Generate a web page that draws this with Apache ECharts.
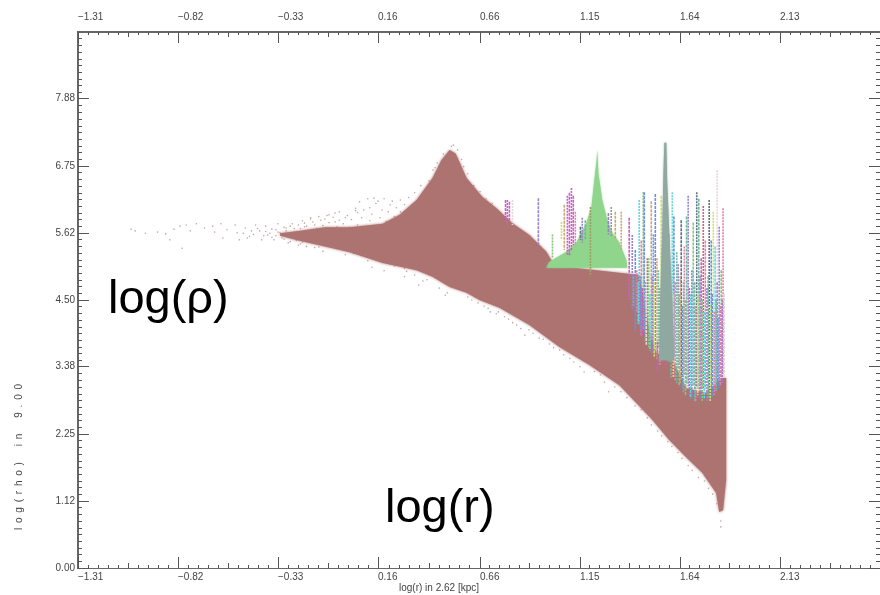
<!DOCTYPE html>
<html>

<head>
    <meta charset="UTF-8">
    <title>log(rho) vs log(r)</title>
    <script src="https://cdn.jsdelivr.net/npm/echarts@6/dist/echarts.min.js"></script>
    <style>
        html, body { margin: 0; padding: 0; background: #fff; overflow: hidden; }
    </style>
</head>

<body>
    <div id="container" style="width: 880px;height:595px;"></div>
</body>

<script>
    // tick labels
    var xTicks = [-1.31, -0.82, -0.33, 0.16, 0.66, 1.15, 1.64, 2.13];
    var yTicks = [0.00, 1.12, 2.25, 3.38, 4.50, 5.62, 6.75, 7.88];
    var xMin = -1.31, xMax = 2.62, yMin = 0, yMax = 9;

    // main gas cloud outline
    var cloudR = [-0.32, -0.23, -0.10, 0.021, 0.183, 0.266, 0.349, 0.427, 0.471, 0.511, 0.540, 0.559, 0.594, 0.672, 0.741, 0.819, 0.902, 0.985, 1.015, 1.122, 1.440, 1.489, 1.524, 1.597, 1.670, 1.768, 1.842, 1.866, 1.866, 1.851, 1.832, 1.817, 1.749, 1.670, 1.587, 1.504, 1.426, 1.343, 1.196, 1.049, 0.902, 0.755, 0.657, 0.594, 0.511, 0.427, 0.349, 0.183, 0.021, -0.10, -0.23, -0.32];
    var cloudRho = [5.62, 5.66, 5.72, 5.72, 5.78, 5.93, 6.18, 6.55, 6.85, 7.02, 6.96, 6.82, 6.55, 6.23, 6.04, 5.79, 5.59, 5.31, 5.14, 5.04, 4.92, 4.00, 3.61, 3.53, 3.02, 2.94, 3.19, 3.19, 1.48, 0.97, 0.94, 1.26, 1.60, 1.86, 2.15, 2.49, 2.77, 3.07, 3.41, 3.71, 4.08, 4.37, 4.50, 4.62, 4.72, 4.89, 5.00, 5.12, 5.30, 5.40, 5.50, 5.58];

    // green clump
    var clumpR = [0.985, 1.000, 1.034, 1.083, 1.132, 1.181, 1.206, 1.220, 1.230, 1.235, 1.240, 1.259, 1.284, 1.308, 1.343, 1.377, 1.382];
    var clumpRho = [5.04, 5.14, 5.21, 5.31, 5.46, 5.79, 6.06, 6.51, 6.80, 7.02, 6.63, 6.18, 5.84, 5.63, 5.46, 5.17, 5.04];

    // tall grey clump
    var peakR = [1.563, 1.573, 1.577, 1.587, 1.602, 1.612, 1.538, 1.543, 1.553, 1.558];
    var peakRho = [7.14, 7.14, 6.51, 5.68, 4.50, 3.49, 3.49, 4.50, 5.68, 6.51];

    // stripes of the other clumps
    var spikeR = [0.785, 0.794, 0.804, 0.819, 0.946, 1.059, 1.073, 1.088, 1.098, 1.108, 1.117, 1.127, 1.152, 1.161, 1.176, 1.201, 1.289, 1.303, 1.323, 1.352, 1.391, 1.406, 1.421, 1.440, 1.450, 1.460, 1.465, 1.480, 1.499, 1.509, 1.519, 1.534, 1.548, 1.577, 1.587, 1.602, 1.610, 1.631, 1.646, 1.661, 1.672, 1.680, 1.705, 1.722, 1.732, 1.754, 1.764, 1.783, 1.793, 1.803, 1.812, 1.822, 1.822, 1.832, 1.842, 1.851,
        1.412, 1.428, 1.435, 1.445, 1.455, 1.470, 1.475, 1.487, 1.493, 1.504, 1.514, 1.527, 1.530, 1.541, 1.596, 1.607, 1.616, 1.624, 1.636, 1.641, 1.652, 1.657, 1.667, 1.686, 1.692, 1.698, 1.712, 1.717, 1.727, 1.738, 1.744, 1.749, 1.759, 1.772, 1.778, 1.788, 1.798, 1.808, 1.817, 1.827, 1.837, 1.847, 1.857, 1.015];
    var spikeTop = [6.18, 6.18, 6.15, 6.18, 6.21, 5.81, 6.10, 6.25, 6.30, 6.38, 6.25, 5.98, 5.73, 5.88, 5.84, 6.06, 5.96, 6.06, 5.98, 5.98, 5.88, 5.59, 5.34, 6.18, 5.50, 6.31, 6.31, 5.20, 6.16, 5.60, 6.28, 5.00, 6.25, 5.30, 5.60, 6.31, 5.90, 5.10, 5.84, 5.40, 5.90, 6.25, 5.80, 6.31, 6.20, 6.08, 5.50, 6.18, 5.50, 5.98, 5.40, 6.68, 4.80, 5.73, 5.00, 6.04,
        4.90, 5.00, 4.80, 4.90, 4.70, 4.80, 4.60, 5.20, 4.60, 4.90, 4.80, 5.20, 3.80, 4.70, 4.50, 4.60, 4.80, 5.30, 4.60, 4.90, 4.40, 4.80, 4.50, 4.70, 4.60, 5.00, 4.80, 4.40, 4.60, 4.90, 5.20, 4.50, 4.30, 4.70, 4.90, 4.40, 4.60, 4.30, 4.50, 4.20, 4.40, 4.50, 4.60, 5.60];
    var spikeBottom = [5.81, 5.76, 5.84, 5.76, 5.42, 5.51, 5.34, 5.25, 5.25, 5.34, 5.42, 5.42, 5.51, 5.46, 5.51, 4.90, 5.60, 5.56, 5.51, 5.34, 4.50, 4.33, 3.98, 4.10, 3.90, 4.00, 3.95, 3.85, 3.80, 3.70, 3.70, 3.70, 3.60, 3.40, 3.45, 3.55, 3.55, 3.35, 3.20, 3.25, 3.10, 3.05, 3.05, 3.05, 3.00, 3.00, 3.00, 2.95, 3.00, 3.05, 3.05, 4.80, 3.10, 3.15, 3.20, 3.25,
        4.40, 4.30, 4.10, 4.00, 3.90, 3.80, 3.75, 3.70, 3.65, 3.60, 3.55, 3.50, 3.30, 3.40, 3.20, 3.20, 3.15, 3.10, 3.05, 3.10, 3.00, 2.95, 2.90, 2.90, 2.85, 2.85, 2.80, 2.80, 2.90, 2.85, 2.90, 2.80, 2.85, 2.80, 2.85, 2.80, 2.85, 2.90, 2.95, 3.00, 3.05, 3.10, 3.20, 5.20];

    // scattered particles outside the dense cloud
    var strayR = [-1.05, -1.03, -0.98, -0.92, -0.88, -0.86, -0.84, -0.81, -0.78, -0.76, -0.73, -0.69, -0.65, -0.64, -0.61, -0.60, -0.58, -0.80, -0.54, -0.53, -0.52, -0.49, -0.47, -0.44, -0.42, -0.41, -0.39, -0.38, -0.36, -0.35, -0.33, -0.32, -0.31, -0.29, -0.28, -0.26, -0.25, -0.23, -0.21, -0.20, -0.17, -0.15, -0.13, -0.10, -0.08, -0.05, -0.03, 0.00, 0.07, 0.11, 0.14, 0.19, 0.23, 0.05, 0.09, 0.13, 0.19, 0.29, 0.36, 0.49, 0.71, 0.88, 1.17, 1.29, 1.84, 1.84,
        -0.24, -0.22, -0.21, -0.19, -0.18, -0.16, -0.15, -0.14, -0.12, -0.11, -0.09, -0.08, -0.07, -0.06, -0.04, -0.03, -0.02, -0.01, 0.01, 0.02, 0.03, 0.04, 0.06, 0.06, 0.08, 0.10, 0.10, 0.12, 0.12, 0.13, 0.15, 0.15, 0.16, 0.17, 0.18, 0.20, 0.21, 0.22, 0.24, 0.24, 0.25, 0.27, 0.27, 0.29, 0.29, 0.31, 0.32, 0.34, 0.34, 0.36, 0.37, 0.39, 0.40, 0.41, 0.43, 0.45, 0.46, 0.48, 0.52, 0.55, 0.57, 0.60, 0.63, 0.66, 0.69, 0.72, 0.60, 0.65, 0.70, 0.74, 0.78, 0.82, 0.86, 0.92, 0.97, 1.02, 1.07, 1.12, 1.22, 1.27, 1.32, 1.38, 1.45, 1.50, 1.55, 1.60, 1.65, 1.70, 1.76, 1.80, 1.82,
        -0.50, -0.48, -0.46, -0.45, -0.43, -0.40, -0.39, -0.37, -0.36, -0.34, -0.34, -0.33, -0.31, -0.30, -0.30, -0.29, -0.28, -0.27, -0.27, -0.26, -0.25, -0.24, -0.23, -0.23, -0.22, -0.20, -0.19, -0.17, -0.15, -0.13, -0.11, -0.09, -0.05, 0.00, 0.05, 0.11, 0.16, 0.22, 0.30, 0.38, 0.44, 0.50, 0.53, 0.58, 0.62, 0.68, 0.75, 0.80, 0.84, 0.90, 0.95, 1.00, 1.05, 1.10, 1.15, 1.25, 1.35, 1.42, 1.48, 1.53, 1.58, 1.63, 1.68, 1.73, 1.78];
    var strayRho = [5.69, 5.66, 5.62, 5.64, 5.61, 5.51, 5.69, 5.74, 5.76, 5.66, 5.78, 5.71, 5.74, 5.64, 5.78, 5.54, 5.68, 5.37, 5.76, 5.63, 5.51, 5.71, 5.57, 5.76, 5.66, 5.51, 5.74, 5.59, 5.69, 5.51, 5.78, 5.63, 5.54, 5.71, 5.46, 5.78, 5.57, 5.42, 5.83, 5.73, 5.88, 5.76, 5.39, 5.86, 5.93, 5.81, 5.98, 5.88, 6.15, 6.20, 6.21, 6.20, 6.16, 6.04, 6.01, 5.05, 4.99, 4.89, 4.75, 4.58, 4.30, 3.91, 3.29, 2.96, 0.79, 0.69,
        5.65, 5.70, 5.47, 5.74, 5.66, 5.81, 5.45, 5.70, 5.84, 5.75, 5.68, 5.80, 5.41, 5.89, 5.73, 5.84, 5.35, 5.78, 5.92, 5.72, 5.85, 5.28, 5.97, 5.76, 5.88, 5.71, 5.25, 6.05, 5.83, 5.94, 5.74, 6.12, 5.19, 5.88, 6.01, 5.82, 5.98, 6.10, 5.90, 5.07, 6.05, 5.98, 6.18, 6.10, 5.03, 6.22, 6.05, 6.30, 4.92, 6.15, 6.42, 6.30, 4.84, 6.50, 6.68, 6.80, 4.70, 6.95, 7.08, 7.02, 6.86, 6.62, 6.42, 6.32, 6.20, 6.12, 4.55, 4.45, 4.36, 4.27, 4.22, 4.12, 4.02, 3.94, 3.84, 3.70, 3.58, 3.46, 3.30, 3.12, 3.04, 2.86, 2.66, 2.40, 2.22, 2.04, 1.84, 1.64, 1.46, 1.24, 1.08,
        5.62, 5.54, 5.66, 5.60, 5.70, 5.58, 5.65, 5.62, 5.55, 5.68, 5.58, 5.64, 5.60, 5.72, 5.52, 5.66, 5.58, 5.74, 5.48, 5.63, 5.70, 5.50, 5.76, 5.60, 5.44, 5.79, 5.40, 5.86, 5.38, 5.90, 5.32, 5.92, 5.96, 5.26, 6.00, 5.16, 6.16, 5.10, 4.98, 4.82, 6.72, 4.62, 7.10, 6.74, 4.50, 4.40, 4.30, 4.18, 4.08, 4.00, 3.86, 3.76, 3.66, 3.52, 3.38, 3.24, 2.96, 2.72, 2.52, 2.30, 2.12, 1.94, 1.72, 1.52, 1.34];

    // colours, one per stripe
    var palette = ['#c860c4', '#e080b0', '#9a80c8', '#6c8fe0', '#60d8e0', '#70b8a0', '#80c878', '#d0e060', '#c8a878', '#a0a060', '#d86070', '#8aa0a0', '#607080', '#e6d6dc'];
    var spikeColor = [0, 0, 0, 13, 2, 7, 8, 0, 0, 0, 0, 1, 12, 2, 5, 9, 2, 11, 8, 8, 0, 2, 3, 4, 1, 6, 3, 10, 8, 3, 3, 5, 7, 0, 6, 4, 3, 2, 12, 1, 5, 2, 6, 12, 5, 10, 1, 12, 3, 7, 4, 13, 2, 2, 6, 1,
        5, 1, 4, 3, 0, 5, 13, 6, 4, 2, 7, 8, 0, 1, 5, 7, 1, 5, 6, 8, 3, 5, 6, 0, 4, 3, 5, 1, 7, 3, 0, 6, 4, 2, 5, 7, 3, 1, 5, 3, 1, 2, 13, 6];

    var brown = '#ad7370';
    var green = '#8fd58c';
    var grey = '#8fa8a0';

    var mycharts = echarts.init(document.getElementById('container'));

    function fmt(v) {
        return v.toFixed(2).replace('-', '\u2212');
    }

    // every division has 10 small ticks
    function smallTicks(min, max, divisions, every) {
        var out = [];
        var step = (max - min) / (divisions * 10);
        for (var i = 0; i <= divisions * 10; i++) {
            if (every === 5 ? (i % 10 === 5) : (i % 5 !== 0)) {
                out.push(min + i * step);
            }
        }
        return out;
    }

    function makeAxis(min, max, position, values, tickLen, labels, lineWidth, margin) {
        var axis = {
            type: 'value',
            min: min,
            max: max,
            position: position,
            scale: true,
            splitLine: { show: false },
            axisLine: { show: true, onZero: false, lineStyle: { color: '#666', width: lineWidth } },
            axisTick: { show: true, inside: true, length: tickLen, customValues: values, lineStyle: { color: '#555', width: 1 } },
            axisLabel: { show: false }
        };
        if (labels) {
            axis.axisLabel = {
                show: true,
                customValues: labels,
                margin: margin,
                color: '#444',
                fontFamily: 'Liberation Sans',
                fontSize: 10,
                formatter: fmt
            };
            if (position === 'top' || position === 'bottom') {
                axis.axisLabel.align = 'left';
            } else {
                axis.axisLabel.padding = [0, 0, 6, 0];
            }
        }
        return axis;
    }

    var xAxes = [
        makeAxis(xMin, xMax, 'bottom', xTicks, 11, xTicks, 1, 4),
        makeAxis(xMin, xMax, 'bottom', smallTicks(xMin, xMax, 8, 5), 5, null, 1),
        makeAxis(xMin, xMax, 'bottom', smallTicks(xMin, xMax, 8, 1), 3, null, 1),
        makeAxis(xMin, xMax, 'top', xTicks, 11, xTicks, 2, 10),
        makeAxis(xMin, xMax, 'top', smallTicks(xMin, xMax, 8, 5), 5, null, 2),
        makeAxis(xMin, xMax, 'top', smallTicks(xMin, xMax, 8, 1), 3, null, 2)
    ];
    var yAxes = [
        makeAxis(yMin, yMax, 'left', yTicks, 11, yTicks, 2, 3),
        makeAxis(yMin, yMax, 'left', smallTicks(yMin, yMax, 8, 5), 4, null, 2),
        makeAxis(yMin, yMax, 'left', smallTicks(yMin, yMax, 8, 1), 4, null, 2),
        makeAxis(yMin, yMax, 'right', yTicks, 11, null, 1),
        makeAxis(yMin, yMax, 'right', smallTicks(yMin, yMax, 8, 5), 4, null, 1),
        makeAxis(yMin, yMax, 'right', smallTicks(yMin, yMax, 8, 1), 4, null, 1)
    ];

    function zip(a, b) {
        return a.map(function (v, i) { return [v, b[i]]; });
    }

    // filled outline, drawn once from all its vertices; the blur softens the edge
    function outlineSeries(rs, rhos, color, z, blur) {
        return {
            type: 'custom',
            z: z,
            silent: true,
            clip: true,
            data: zip(rs, rhos),
            encode: { x: 0, y: 1 },
            renderItem: function (params, api) {
                if (params.dataIndex !== 0) return null;
                var pts = rs.map(function (r, i) { return api.coord([r, rhos[i]]); });
                return {
                    type: 'polygon',
                    shape: { points: pts },
                    style: { fill: color, shadowBlur: blur, shadowColor: color }
                };
            }
        };
    }

    var option = {
        animation: false,
        backgroundColor: '#fff',
        grid: { left: 78, top: 32, width: 803, height: 536 },
        xAxis: xAxes,
        yAxis: yAxes,
        series: [
            outlineSeries(cloudR, cloudRho, brown, 2, 3),
            outlineSeries(clumpR, clumpRho, green, 3, 2),
            {
                type: 'custom',
                z: 4,
                silent: true,
                clip: true,
                data: spikeR.map(function (r, i) { return [r, spikeTop[i], spikeBottom[i]]; }),
                encode: { x: 0, y: [1, 2] },
                renderItem: function (params, api) {
                    var a = api.coord([api.value(0), api.value(1)]);
                    var b = api.coord([api.value(0), api.value(2)]);
                    return {
                        type: 'line',
                        shape: { x1: a[0], y1: a[1], x2: b[0], y2: b[1] },
                        style: {
                            stroke: palette[spikeColor[params.dataIndex]],
                            lineWidth: 1.6,
                            lineDash: params.dataIndex % 2 ? [2, 1] : [3, 1]
                        }
                    };
                }
            },
            outlineSeries(peakR, peakRho, grey, 5, 2),
            {
                type: 'scatter',
                z: 6,
                silent: true,
                symbolSize: 1.6,
                itemStyle: { color: '#a57f7d', opacity: 0.7 },
                data: zip(strayR, strayRho)
            }
        ],
        graphic: [
            {
                type: 'text', left: 108, top: 277, z: 20,
                style: { text: 'log(\u03c1)', fill: '#000', font: '47px "Liberation Sans"' }
            },
            {
                type: 'text', left: 385, top: 486, z: 20,
                style: { text: 'log(r)', fill: '#000', font: '47px "Liberation Sans"' }
            },
            {
                type: 'text', left: 399, top: 583, z: 20,
                style: { text: 'log(r) in 2.62 [kpc]', fill: '#444', font: '10px "Liberation Sans"' }
            },
            {
                type: 'text', x: 14, y: 530, rotation: Math.PI / 2, z: 20,
                style: { text: 'l \u2009o \u2009g \u2009( \u2009r \u2009h \u2009o \u2009)    \u2009 i \u2009n    \u2009 9 \u2009. \u20090 \u20090', fill: '#444', font: '10px "Liberation Sans"' }
            }
        ]
    };

    mycharts.setOption(option);
</script>

</html>
